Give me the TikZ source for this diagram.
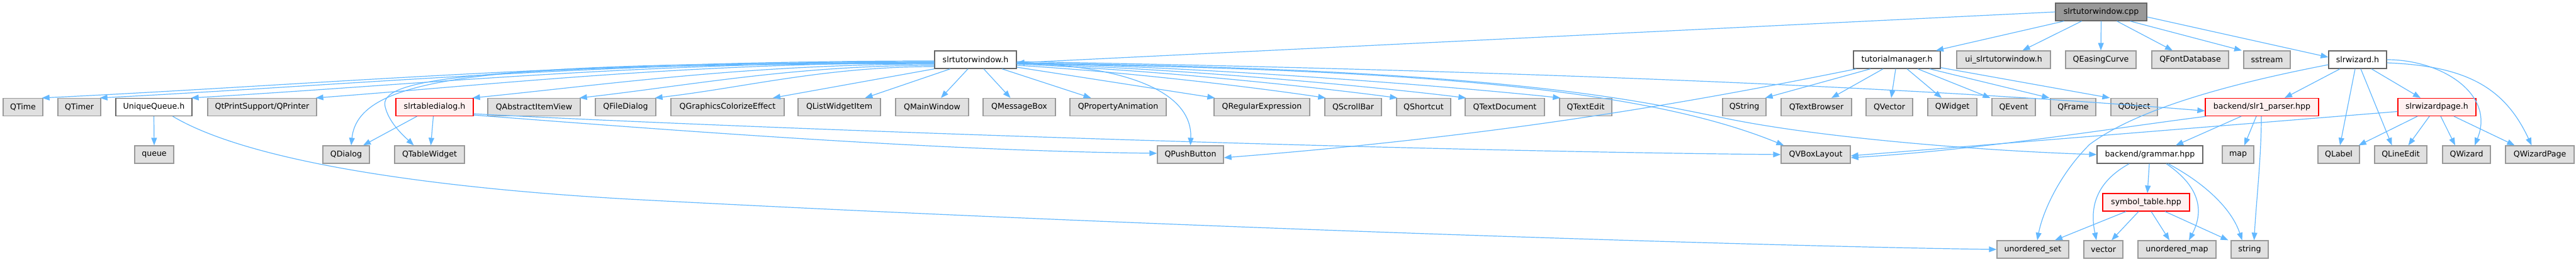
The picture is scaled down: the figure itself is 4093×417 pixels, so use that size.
\documentclass[tikz,border=0pt]{standalone}
\usepackage{fontspec}
\setmainfont{DejaVu Sans}
\usetikzlibrary{arrows.meta}
\definecolor{edgec}{HTML}{63B8FF}
\definecolor{extfill}{HTML}{E0E0E0}
\definecolor{extdraw}{HTML}{999999}
\definecolor{filedraw}{HTML}{666666}
\definecolor{redfill}{HTML}{FFF0F0}
\definecolor{rootfill}{HTML}{999999}
\tikzset{
  nbox/.style={draw, line width=1.3pt, minimum height=28pt, inner xsep=0pt, inner ysep=0pt, font=\fontsize{12.6}{15}\selectfont, text=black},
  ext/.style={nbox, fill=extfill, draw=extdraw},
  file/.style={nbox, fill=white, draw=filedraw},
  redf/.style={nbox, fill=redfill, draw=red},
  root/.style={nbox, fill=rootfill, draw=filedraw},
  edge/.style={draw=edgec, line width=1.2pt, -{Triangle[length=12pt,width=9pt]}}
}
\begin{document}
\begin{tikzpicture}[x=1pt,y=-1pt]
\useasboundingbox (0,0) rectangle (4093,417);
% row 0
\node[root, minimum width=145pt] (cpp) at (3338.5,19) {slrtutorwindow.cpp};
% row 1
\node[file, minimum width=130pt] (stw) at (1550,95) {slrtutorwindow.h};
\node[file, minimum width=138pt] (tm) at (3014,95) {tutorialmanager.h};
\node[ext, minimum width=149pt] (ui) at (3183.5,95) {ui\_slrtutorwindow.h};
\node[ext, minimum width=112pt] (qeasing) at (3338,95) {QEasingCurve};
\node[ext, minimum width=122pt] (qfontdb) at (3480,95) {QFontDatabase};
\node[ext, minimum width=74pt] (sstream) at (3602,95) {sstream};
\node[file, minimum width=92pt] (wiz) at (3746,95) {slrwizard.h};
% row 2
\node[ext, minimum width=63pt] (qtime) at (36.5,170.5) {QTime};
\node[ext, minimum width=68pt] (qtimer) at (126,170.5) {QTimer};
\node[file, minimum width=121pt] (uq) at (244.5,170.5) {UniqueQueue.h};
\node[ext, minimum width=173pt] (qprinter) at (416.5,170.5) {QtPrintSupport/QPrinter};
\node[redf, minimum width=123pt] (std) at (690.5,170.5) {slrtabledialog.h};
\node[ext, minimum width=147pt] (qaiv) at (848.5,170.5) {QAbstractItemView};
\node[ext, minimum width=96pt] (qfd) at (994,170.5) {QFileDialog};
\node[ext, minimum width=180pt] (qgce) at (1156,170.5) {QGraphicsColorizeEffect};
\node[ext, minimum width=131pt] (qlwi) at (1333.5,170.5) {QListWidgetItem};
\node[ext, minimum width=116pt] (qmw) at (1481,170.5) {QMainWindow};
\node[ext, minimum width=115pt] (qmb) at (1619.5,170.5) {QMessageBox};
\node[ext, minimum width=153pt] (qpa) at (1776.5,170.5) {QPropertyAnimation};
\node[ext, minimum width=152pt] (qre) at (2005,170.5) {QRegularExpression};
\node[ext, minimum width=90pt] (qsb) at (2150,170.5) {QScrollBar};
\node[ext, minimum width=86pt] (qsc) at (2262,170.5) {QShortcut};
\node[ext, minimum width=126pt] (qtd) at (2391,170.5) {QTextDocument};
\node[ext, minimum width=83pt] (qte) at (2519.5,170.5) {QTextEdit};
\node[ext, minimum width=69pt] (qstr) at (2771.5,170.5) {QString};
\node[ext, minimum width=112pt] (qtb) at (2886,170.5) {QTextBrowser};
\node[ext, minimum width=74pt] (qvec) at (3002,170.5) {QVector};
\node[ext, minimum width=78pt] (qwid) at (3102,170.5) {QWidget};
\node[ext, minimum width=69pt] (qev) at (3199.5,170.5) {QEvent};
\node[ext, minimum width=72pt] (qfr) at (3294,170.5) {QFrame};
\node[ext, minimum width=74pt] (qobj) at (3391,170.5) {QObject};
\node[redf, minimum width=180pt] (parser) at (3594,170.5) {backend/slr1\_parser.hpp};
\node[redf, minimum width=124pt] (wpage) at (3872,170.5) {slrwizardpage.h};
% row 3
\node[ext, minimum width=62pt] (queue) at (245,246) {queue};
\node[ext, minimum width=74pt] (qdlg) at (550,246) {QDialog};
\node[ext, minimum width=111pt] (qtw) at (682.5,246) {QTableWidget};
\node[ext, minimum width=105pt] (qpb) at (1891.5,246) {QPushButton};
\node[ext, minimum width=110pt] (qvbl) at (2885,246) {QVBoxLayout};
\node[file, minimum width=168pt] (gram) at (3416,246) {backend/grammar.hpp};
\node[ext, minimum width=50pt] (map) at (3556,246) {map};
\node[ext, minimum width=66pt] (qlab) at (3716,246) {QLabel};
\node[ext, minimum width=83pt] (qle) at (3814.5,246) {QLineEdit};
\node[ext, minimum width=76pt] (qwz) at (3919,246) {QWizard};
\node[ext, minimum width=109pt] (qwp) at (4035.5,246) {QWizardPage};
% row 4
\node[redf, minimum width=138pt] (sym) at (3410,322) {symbol\_table.hpp};
% row 5
\node[ext, minimum width=114pt] (uset) at (3230,397) {unordered\_set};
\node[ext, minimum width=62pt] (vec) at (3342,397) {vector};
\node[ext, minimum width=124pt] (umap) at (3459,397) {unordered\_map};
\node[ext, minimum width=59pt] (str) at (3574.5,397) {string};

% edges from slrtutorwindow.cpp
\draw[edge] (cpp.west) -- ([yshift=-5pt]stw.east);
\draw[edge] ([xshift=-59pt]cpp.south) -- ([xshift=62pt]tm.north);
\draw[edge] ([xshift=-31pt]cpp.south) -- ([xshift=30pt]ui.north);
\draw[edge] (cpp.south) -- (qeasing.north);
\draw[edge] ([xshift=25pt]cpp.south) -- ([xshift=-28pt]qfontdb.north);
\draw[edge] ([xshift=46pt]cpp.south) -- ([xshift=-40pt]sstream.north);
\draw[edge] ([yshift=-8pt]cpp.east) -- ([yshift=4pt]wiz.west);

% edges from slrtutorwindow.h (left side)
\draw[edge] ([yshift=-2pt]stw.west) .. controls (920,97) and (500,135) .. ([xshift=-2pt]qtime.north east);
\draw[edge] ([yshift=-3pt]stw.west) .. controls (960,98) and (560,135) .. ([xshift=-2pt]qtimer.north east);
\draw[edge] ([yshift=-4pt]stw.west) .. controls (1010,99) and (660,135) .. ([xshift=-2pt]uq.north east);
\draw[edge] ([yshift=-5pt]stw.west) .. controls (1090,100) and (780,135) .. ([xshift=-2pt]qprinter.north east);
\draw[edge] ([yshift=-7pt]stw.west) .. controls (1190,102) and (960,135) .. ([xshift=-2pt]std.north east);
\draw[edge] ([yshift=-9pt]stw.west) .. controls (1260,104) and (1090,137) .. ([xshift=-2pt]qaiv.north east);
\draw[edge] ([yshift=-11pt]stw.west) .. controls (1310,106) and (1180,140) .. ([xshift=-2pt]qfd.north east);
\draw[edge] ([yshift=-5pt]stw.west) .. controls (800,100) and (570,115) .. ([xshift=8pt]qdlg.north);
\draw[edge] ([yshift=-6pt]stw.west) .. controls (750,103) and (600,125) .. (612,170) .. controls (618,195) and (640,215) .. ([xshift=-25pt]qtw.north);
% bottom side
\draw[edge] (stw.south west) -- ([xshift=72pt]qgce.north);
\draw[edge] ([xshift=-40pt]stw.south) -- ([xshift=41pt]qlwi.north);
\draw[edge] ([xshift=-12pt]stw.south) -- ([xshift=14pt]qmw.north);
\draw[edge] ([xshift=13pt]stw.south) -- ([xshift=-14pt]qmb.north);
\draw[edge] ([xshift=42pt]stw.south) -- ([xshift=-43pt]qpa.north);
\draw[edge] ([yshift=-12pt]stw.east) -- ([xshift=2pt]qre.north west);
% right side
\draw[edge] ([yshift=-9pt]stw.east) .. controls (1800,115) and (2000,140) .. ([xshift=2pt]qsb.north west);
\draw[edge] ([yshift=-7pt]stw.east) .. controls (1850,112) and (2100,140) .. ([xshift=2pt]qsc.north west);
\draw[edge] ([yshift=-6pt]stw.east) .. controls (1900,110) and (2200,140) .. ([xshift=2pt]qtd.north west);
\draw[edge] ([yshift=-5pt]stw.east) .. controls (1950,108) and (2330,140) .. ([xshift=2pt]qte.north west);
\draw[edge] ([yshift=-5pt]stw.east) .. controls (1800,105) and (1895,150) .. (qpb.north);
\draw[edge] ([yshift=-6pt]stw.east) .. controls (2200,110) and (2600,135) .. ([xshift=5pt]qvbl.north west);
\draw[edge] ([yshift=-3pt]stw.east) .. controls (2300,110) and (3000,135) .. ([yshift=-6pt]parser.west);
\draw[edge] ([yshift=-5pt]stw.east) .. controls (2400,110) and (2600,160) .. (2750,190) .. controls (2900,220) and (3150,240) .. (gram.west);

% edges from tutorialmanager.h
\draw[edge] ([xshift=5pt]tm.south west) .. controls (2700,160) and (2400,215) .. ([yshift=-5pt]qpb.east);
\draw[edge] ([xshift=-42pt]tm.south) -- ([xshift=-2pt]qstr.north east);
\draw[edge] ([xshift=-22pt]tm.south) -- ([xshift=24pt]qtb.north);
\draw[edge] ([xshift=-2pt]tm.south) -- ([xshift=3pt]qvec.north);
\draw[edge] ([xshift=16pt]tm.south) -- ([xshift=-17pt]qwid.north);
\draw[edge] ([xshift=33pt]tm.south) -- ([xshift=-2pt]qev.north west);
\draw[edge] ([xshift=52pt]tm.south) -- ([xshift=-1pt]qfr.north west);
\draw[edge] ([yshift=2pt]tm.south east) -- ([xshift=-1pt]qobj.north west);

% edges from slrwizard.h
\draw[edge] ([xshift=-28pt]wiz.south) -- ([xshift=36pt]parser.north);
\draw[edge] ([xshift=22pt]wiz.south) -- ([xshift=-26pt]wpage.north);
\draw[edge] ([xshift=-4pt]wiz.south) -- ([xshift=2pt]qlab.north);
\draw[edge] ([xshift=5pt]wiz.south) -- ([xshift=-14pt]qle.north);
\draw[edge] ([yshift=0pt]wiz.east) .. controls (3880,95) and (3965,150) .. ([xshift=13pt]qwz.north);
\draw[edge] ([yshift=-5pt]wiz.east) .. controls (3920,105) and (3980,140) .. ([xshift=-13pt]qwp.north);
\draw[edge] ([yshift=-8pt]wiz.west) .. controls (3560,130) and (3400,170) .. (3320,230) .. controls (3270,280) and (3245,340) .. ([xshift=7pt]uset.north);

% edges from slr1_parser.hpp
\draw[edge] ([xshift=-33pt]parser.south) -- ([xshift=41pt]gram.north);
\draw[edge] ([xshift=-9pt]parser.south) -- ([xshift=10pt]map.north);
\draw[edge] ([xshift=-1pt]parser.south) .. controls (3593,250) and (3585,320) .. ([xshift=7pt]str.north);
\draw[edge] ([xshift=2pt]parser.south west) .. controls (3350,205) and (3150,238) .. ([yshift=-5pt]qvbl.east);

% edges from slrwizardpage.h
\draw[edge] ([yshift=-7pt]wpage.west) -- ([yshift=-2pt]qvbl.east);
\draw[edge] ([xshift=-31pt]wpage.south) -- ([xshift=-2pt]qlab.north east);
\draw[edge] ([xshift=-12pt]wpage.south) -- ([xshift=12pt]qle.north);
\draw[edge] ([xshift=6pt]wpage.south) -- ([xshift=-18pt]qwz.north);
\draw[edge] ([xshift=27pt]wpage.south) -- ([xshift=-40pt]qwp.north);

% edges from grammar.hpp
\draw[edge] ([xshift=-33pt]gram.south) .. controls (3330,290) and (3320,330) .. ([xshift=-11pt]vec.north);
\draw[edge] ([xshift=-1pt]gram.south) -- ([xshift=2pt]sym.north);
\draw[edge] ([xshift=26pt]gram.south) .. controls (3500,300) and (3500,340) .. ([xshift=19pt]umap.north);
\draw[edge] ([xshift=29pt]gram.south) .. controls (3500,290) and (3545,330) .. ([xshift=-12pt]str.north);

% edges from symbol_table.hpp
\draw[edge] ([xshift=-32pt]sym.south) -- ([xshift=35pt]uset.north);
\draw[edge] ([xshift=-12pt]sym.south) -- ([xshift=13pt]vec.north);
\draw[edge] ([xshift=8pt]sym.south) -- ([xshift=-12pt]umap.north);
\draw[edge] ([xshift=30pt]sym.south) -- ([xshift=-4pt]str.north west);

% edges from UniqueQueue.h
\draw[edge] (uq.south) -- (queue.north);
\draw[edge] ([xshift=30pt]uq.south) .. controls (400,260) and (700,300) .. (1000,317) .. controls (1800,360) and (2800,392) .. (uset.west);

% edges from slrtabledialog.h
\draw[edge] ([xshift=-28pt]std.south) -- ([xshift=27pt]qdlg.north);
\draw[edge] ([xshift=-2pt]std.south) -- ([xshift=2pt]qtw.north);
\draw[edge] ([yshift=2pt]std.south east) .. controls (1100,210) and (1500,240) .. ([yshift=2pt]qpb.west);
\draw[edge] ([yshift=4pt]std.south east) .. controls (1200,205) and (2200,240) .. (qvbl.west);
\end{tikzpicture}
\end{document}
